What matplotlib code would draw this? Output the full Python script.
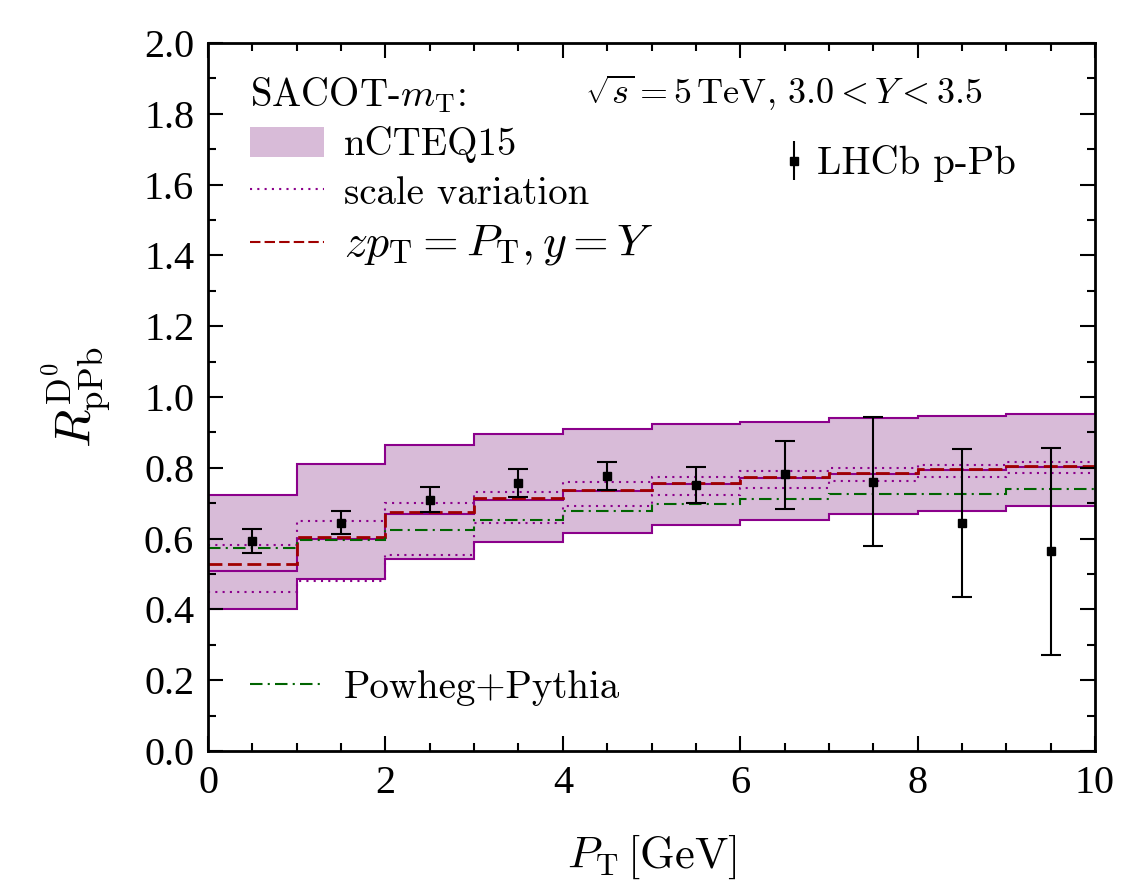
import matplotlib
matplotlib.use("Agg")
import matplotlib.pyplot as plt
import numpy as np
from matplotlib.lines import Line2D
from matplotlib.patches import Patch
from matplotlib.ticker import MultipleLocator

plt.rcParams["font.family"] = "Liberation Serif"
plt.rcParams["mathtext.fontset"] = "cm"

# bins in P_T [GeV]
edges = np.arange(0, 11, 1)
centers = edges[:-1] + 0.5

# nCTEQ15 band and central value
band_hi = [0.722, 0.810, 0.864, 0.895, 0.909, 0.923, 0.930, 0.940, 0.946, 0.951]
band_lo = [0.400, 0.485, 0.542, 0.590, 0.617, 0.638, 0.653, 0.669, 0.679, 0.691]
central = [0.509, 0.598, 0.669, 0.710, 0.735, 0.754, 0.770, 0.782, 0.794, 0.802]

# scale variation
scale_hi = [0.582, 0.649, 0.700, 0.732, 0.759, 0.775, 0.790, 0.799, 0.808, 0.817]
scale_lo = [0.449, 0.479, 0.554, 0.645, 0.692, 0.723, 0.744, 0.763, 0.775, 0.786]

# zp_T = P_T, y = Y
zpt = [0.527, 0.604, 0.674, 0.714, 0.738, 0.757, 0.773, 0.785, 0.797, 0.805]

# Powheg+Pythia
powheg = [0.574, 0.595, 0.625, 0.653, 0.677, 0.698, 0.712, 0.726, 0.726, 0.739]

# LHCb data
lhcb = [0.593, 0.645, 0.710, 0.756, 0.777, 0.752, 0.782, 0.761, 0.643, 0.564]
lhcb_up = [0.626, 0.678, 0.745, 0.796, 0.816, 0.802, 0.877, 0.944, 0.852, 0.857]
lhcb_dn = [0.559, 0.612, 0.674, 0.718, 0.737, 0.701, 0.685, 0.579, 0.434, 0.271]

purple = "#8b008b"
fillc = "#d8bbd8"
red = "#a00000"
green = "#006400"
dots = (0, (1, 2.5))
dashes = (0, (5, 2))
dashdot = (0, (6, 2.5, 1, 2.5))

fig = plt.figure(figsize=(11.27, 8.91), dpi=100)
ax = fig.add_axes([0.1846, 0.1571, 0.787, 0.7946])

ax.stairs(band_hi, edges, baseline=band_lo, fill=True, color=fillc, lw=0)
ax.stairs(band_hi, edges, baseline=None, color=purple, lw=1.5)
ax.stairs(band_lo, edges, baseline=None, color=purple, lw=1.5)
ax.stairs(central, edges, baseline=None, color=purple, lw=1.5)
ax.stairs(scale_hi, edges, baseline=None, color=purple, lw=1.5, ls=dots)
ax.stairs(scale_lo, edges, baseline=None, color=purple, lw=1.5, ls=dots)
ax.stairs(zpt, edges, baseline=None, color=red, lw=2, ls=dashes)
ax.stairs(powheg, edges, baseline=None, color=green, lw=1.5, ls=dashdot)

lhcb = np.array(lhcb)
yerr = [lhcb - np.array(lhcb_dn), np.array(lhcb_up) - lhcb]
ax.errorbar(centers, lhcb, yerr=yerr, fmt="s", color="black", ms=6,
            capsize=7, elinewidth=1.5, capthick=1.5, zorder=5)

ax.set_xlim(0, 10)
ax.set_ylim(0, 2.0)
ax.xaxis.set_major_locator(MultipleLocator(2))
ax.xaxis.set_minor_locator(MultipleLocator(0.5))
ax.yaxis.set_major_locator(MultipleLocator(0.2))
ax.yaxis.set_minor_locator(MultipleLocator(0.1))
ax.yaxis.set_major_formatter(plt.FormatStrFormatter("%.1f"))
ax.tick_params(which="both", direction="in", top=True, right=True, width=1.5)
ax.tick_params(which="major", length=11, labelsize=29, pad=10)
ax.tick_params(which="minor", length=6)
for s in ax.spines.values():
    s.set_linewidth(2)

ax.set_xlabel(r"$P_\mathrm{T}\,[\mathrm{GeV}]$", fontsize=32, labelpad=22)
ax.set_ylabel(r"$R^{\mathrm{D}^0}_{\mathrm{pPb}}$", fontsize=36, labelpad=22)

cm = {"family": "cmr10", "size": 28}
h1 = [Patch(facecolor=fillc, edgecolor="none"),
      Line2D([], [], color=purple, lw=1.5, ls=dots),
      Line2D([], [], color=red, lw=1.5, ls=dashes)]
l1 = ax.legend(h1, ["nCTEQ15", "scale variation", r"$zp_\mathrm{T} = P_\mathrm{T}, y = Y$"],
               loc="upper left", bbox_to_anchor=(0.017, 0.993), frameon=False, prop=cm,
               title=r"SACOT-$m_\mathrm{T}$:", title_fontproperties=cm, alignment="left",
               handlelength=1.9, handleheight=0.8, handletextpad=0.5, labelspacing=0.3,
               borderaxespad=0.3)
l1.get_texts()[2].set_fontsize(33)
ax.add_artist(l1)

h2 = [Line2D([], [], color=green, lw=1.5, ls=dashdot)]
l2 = ax.legend(h2, ["Powheg+Pythia"], loc="lower left", bbox_to_anchor=(0.017, 0.025),
               frameon=False, prop=cm, handlelength=1.9, handletextpad=0.5,
               borderaxespad=0.3)
ax.add_artist(l2)

ax.errorbar([], [], yerr=[], fmt="s", color="black", ms=6, capsize=4,
            elinewidth=1.5, capthick=1.5, label="LHCb p-Pb")
ax.legend(loc="upper right", bbox_to_anchor=(0.95, 0.905), frameon=False, prop=cm,
          handlelength=0.6, handletextpad=0.3)

ax.text(0.425, 0.93, r"$\sqrt{s} = 5\,\mathrm{TeV},\, 3.0 < Y < 3.5$",
        transform=ax.transAxes, fontsize=26, ha="left", va="center")

fig.savefig("out.png", dpi=100)
